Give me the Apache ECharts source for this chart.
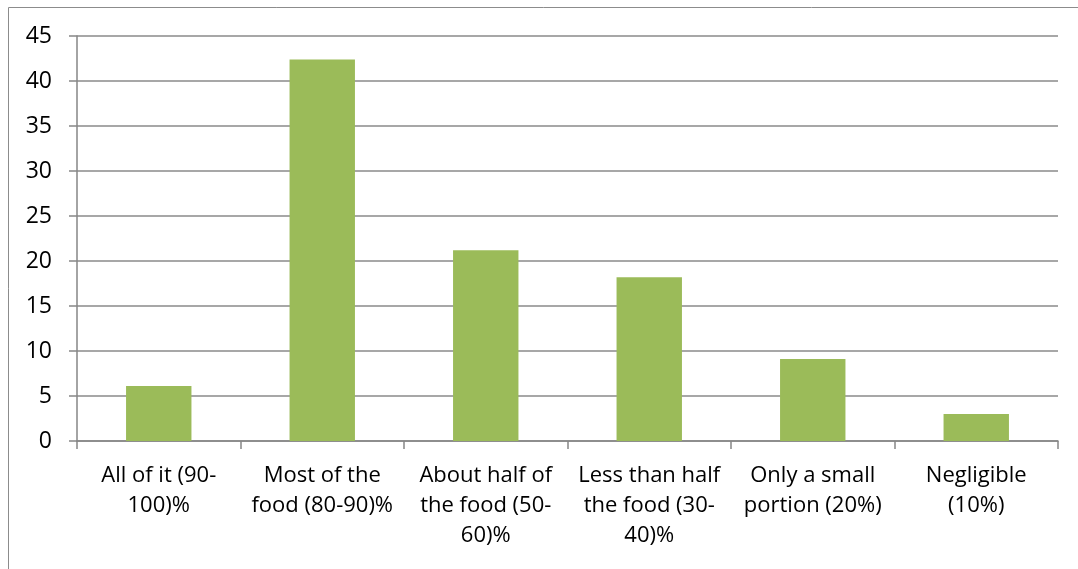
<!DOCTYPE html>
<html>
<head>
<meta charset="utf-8">
<script src="https://cdn.jsdelivr.net/npm/echarts@6/dist/echarts.min.js"></script>
<style>
  html, body { margin: 0; padding: 0; background: #fff; }
  #chart { width: 1078px; height: 569px; }
</style>
</head>
<body>
<div id="chart"></div>
<script>
// categories (line breaks as in the picture)
var categories = [
    'All of it (90-\n100)%',
    'Most of the\nfood (80-90)%',
    'About half of\nthe food (50-\n60)%',
    'Less than half\nthe food (30-\n40)%',
    'Only a small\nportion (20%)',
    'Negligible\n(10%)'
];
var values = [6.1, 42.4, 21.2, 18.2, 9.1, 3.0];

var myChart = echarts.init(document.getElementById('chart'));
myChart.setOption({
    animation: false,
    textStyle: { fontFamily: 'Open Sans' },
    graphic: [{
        type: 'rect',
        shape: { x: 8.5, y: 7.5, width: 1200, height: 700 },
        style: { fill: 'none', stroke: '#8c8c8c', lineWidth: 1 },
        silent: true
    }],
    grid: { left: 77, right: 20, top: 36, bottom: 128 },
    xAxis: {
        type: 'category',
        data: categories,
        axisLine: { lineStyle: { color: '#868686', width: 1.5 } },
        axisTick: { show: true, length: 8, lineStyle: { color: '#868686', width: 1.5 } },
        axisLabel: { interval: 0, color: '#000', fontSize: 22, lineHeight: 30, margin: 20 }
    },
    yAxis: {
        type: 'value',
        min: 0, max: 45, interval: 5,
        axisLine: { show: true, lineStyle: { color: '#868686', width: 1.5 } },
        axisTick: { show: true, length: 8, lineStyle: { color: '#868686', width: 1.5 } },
        splitLine: { lineStyle: { color: '#8a8a8a', width: 1.5 } },
        axisLabel: { color: '#000', fontSize: 23, margin: 25 }
    },
    series: [{
        type: 'bar',
        data: values,
        barWidth: '40%',
        itemStyle: { color: '#9BBB59' }
    }]
});
</script>
</body>
</html>
